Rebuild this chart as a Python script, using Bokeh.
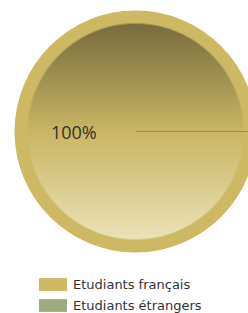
import numpy as np
from math import pi, cos, sin
from bokeh.plotting import figure
from bokeh.models import Range1d, Legend, LegendItem, ColumnDataSource
from bokeh.core.properties import value
from bokeh.embed import file_html
from bokeh.resources import INLINE

# ---- data ----
categories = ["Etudiants français", "Etudiants étrangers"]
values = [100, 0]
colors = ["#cdb863", "#9cab7e"]
pct_labels = ["100%", "0%"]

# ---- layout ----
W, H = 248, 313
cx, cy = 135, 182
R_out, R_in = 121, 108
label_r = 0.51 * R_out

p = figure(width=W, height=H, output_backend="svg", toolbar_location=None,
           x_range=Range1d(0, W), y_range=Range1d(0, H), min_border=0)
p.axis.visible = False
p.grid.visible = False
p.outline_line_color = None
p.background_fill_color = "white"

total = float(sum(values))
starts, ends = [], []
acc = 0.0
for v in values:
    starts.append(2 * pi * acc / total)
    acc += v
    ends.append(2 * pi * acc / total)

src = ColumnDataSource(dict(
    x=[cx] * len(values), y=[cy] * len(values),
    r=[R_out if v > 0 else 0 for v in values],
    start=starts, end=ends, color=colors, cat=categories,
))
wr = p.wedge(x="x", y="y", radius="r", start_angle="start", end_angle="end",
             fill_color="color", line_color=None, source=src)

# inner gradient (style overlay of the main slice)
N = 2 * R_in * 3
img = np.zeros((N, N), dtype=np.uint32)
view = img.view(dtype=np.uint8).reshape((N, N, 4))
yy, xx = np.mgrid[0:N, 0:N]
t = (yy + 0.5) / N  # 0 bottom -> 1 top
bottom = np.array([236, 226, 184], float)
mid = np.array([202, 182, 100], float)
top = np.array([120, 108, 62], float)
col = np.where((t < 0.5)[..., None],
               bottom + (mid - bottom) * (t / 0.5)[..., None],
               mid + (top - mid) * ((t - 0.5) / 0.5)[..., None])
d = np.sqrt((xx + 0.5 - N / 2) ** 2 + (yy + 0.5 - N / 2) ** 2) / 3.0
alpha = np.clip(R_in - d + 0.5, 0, 1) * 255
view[..., 0] = col[..., 0]
view[..., 1] = col[..., 1]
view[..., 2] = col[..., 2]
view[..., 3] = alpha.astype(np.uint8)
p.image_rgba(image=[img], x=cx - R_in, y=cy - R_in, dw=2 * R_in, dh=2 * R_in)

# slice boundary seam
for i in range(len(values)):
    if values[i] > 0:
        p.segment(x0=cx, y0=cy, x1=cx + R_out * cos(starts[i]), y1=cy + R_out * sin(starts[i]),
                  line_color="#9e8d4c", line_width=1)

# percentage labels
for i in range(len(values)):
    if values[i] > 0:
        m = (starts[i] + ends[i]) / 2
        p.text(x=[cx + label_r * cos(m)], y=[cy + label_r * sin(m)], text=[pct_labels[i]],
               text_align="center", text_baseline="middle",
               text_font=value("Open Sans"), text_font_size="18px", text_color="#333333")

legend = Legend(items=[LegendItem(label=categories[i], renderers=[wr], index=i) for i in range(len(categories))],
                location=(35, 0), orientation="vertical",
                glyph_width=35, glyph_height=16, label_height=16, spacing=5,
                padding=0, margin=0, border_line_color=None, background_fill_alpha=0,
                label_standoff=3, label_text_font="DejaVu Sans", label_text_font_size="13px",
                label_text_color="#333333")
p.add_layout(legend, "center")

open("out.html", "w").write(file_html(p, INLINE))
